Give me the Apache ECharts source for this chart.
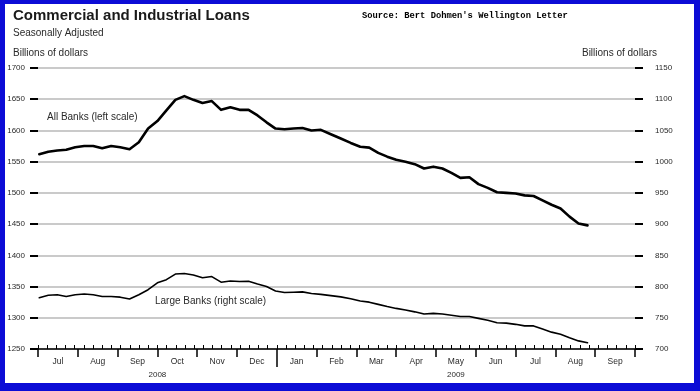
<!DOCTYPE html>
<html>
<head>
<meta charset="utf-8">
<script src="https://cdn.jsdelivr.net/npm/echarts@6/dist/echarts.min.js"></script>
<style>
  html, body { margin: 0; padding: 0; background: #fff; }
  #wrap { position: relative; width: 700px; height: 391px; }
  #chart { position: absolute; left: 0; top: 0; width: 700px; height: 391px; }
  #frame { position: absolute; left: 0; top: 0; width: 700px; height: 391px; box-sizing: border-box;
           border-style: solid; border-color: #0c0cd6; border-width: 4px 6px 8px 5px; pointer-events: none; }
</style>
</head>
<body>
<div id="wrap"><div id="chart"></div><div id="frame"></div></div>
<script>
// ---- data ----
const weeks = [
  '2008-07-02','2008-07-09','2008-07-16','2008-07-23','2008-07-30',
  '2008-08-06','2008-08-13','2008-08-20','2008-08-27',
  '2008-09-03','2008-09-10','2008-09-17','2008-09-24',
  '2008-10-01','2008-10-08','2008-10-15','2008-10-22','2008-10-29',
  '2008-11-05','2008-11-12','2008-11-19','2008-11-26',
  '2008-12-03','2008-12-10','2008-12-17','2008-12-24','2008-12-31',
  '2009-01-07','2009-01-14','2009-01-21','2009-01-28',
  '2009-02-04','2009-02-11','2009-02-18','2009-02-25',
  '2009-03-04','2009-03-11','2009-03-18','2009-03-25',
  '2009-04-01','2009-04-08','2009-04-15','2009-04-22','2009-04-29',
  '2009-05-06','2009-05-13','2009-05-20','2009-05-27',
  '2009-06-03','2009-06-10','2009-06-17','2009-06-24',
  '2009-07-01','2009-07-08','2009-07-15','2009-07-22','2009-07-29',
  '2009-08-05','2009-08-12','2009-08-19','2009-08-26'
];
const allBanks = [
  1562, 1566, 1568, 1569, 1573,
  1575, 1575, 1571.5, 1575,
  1573, 1570, 1581, 1603,
  1615, 1632, 1649, 1655, 1649,
  1644, 1647, 1633, 1637,
  1633, 1633, 1624, 1613, 1603,
  1602, 1603, 1604, 1600,
  1601, 1594, 1587, 1580,
  1574, 1572.5, 1564, 1558,
  1553, 1550, 1546, 1539, 1542,
  1539, 1532, 1524, 1525,
  1514, 1508, 1501, 1500,
  1499, 1496, 1495, 1488, 1481,
  1475, 1462, 1451, 1448
];
const largeBanks = [
  782, 786, 787, 784, 787,
  788, 787, 784, 784,
  783, 780, 787, 795,
  806, 811, 820, 821, 818.5,
  814, 816, 807, 809,
  808, 808.5, 804, 800, 793,
  790.5, 791, 791.5, 789,
  787.5, 785.5, 783.5, 780.5,
  777, 775, 771.5, 768,
  765, 762.5, 759.5, 756, 757,
  756, 754, 752, 752,
  749, 746, 742, 741.5,
  739.5, 737, 737, 732, 727,
  723.5, 718, 713, 710
];
const monthLabels = ['Jul','Aug','Sep','Oct','Nov','Dec','Jan','Feb','Mar','Apr','May','Jun','Jul','Aug','Sep'];
const yearLabels = ['2008', '2009'];
const leftRange = [1250, 1700];
const rightRange = [700, 1150];

// ---- helpers ----
function daysIn(y, m) { return new Date(y, m, 0).getDate(); }
// position in "months since Jul 2008" (months drawn with equal width, as in the reference)
function monthPos(s) {
  const [y, m, d] = s.split('-').map(Number);
  return (y - 2008) * 12 + (m - 1) - 6 + (d - 1) / daysIn(y, m);
}
const allData = weeks.map((w, i) => [monthPos(w), allBanks[i]]);
const largeData = weeks.map((w, i) => [monthPos(w), largeBanks[i]]);
const monthBounds = monthLabels.map((_, i) => i).concat([monthLabels.length]);
const monthCenters = monthLabels.map((_, i) => i + 0.5);
const yearCenters = [3, 10.5];
const nM = monthLabels.length;

const FONT = 'Liberation Sans, Arial, sans-serif';
const txt = '#2a2a2a';
const chart = echarts.init(document.getElementById('chart'), null, { renderer: 'canvas' });

const hiddenAxisBase = {
  type: 'value', min: 0, max: nM, position: 'bottom',
  axisLine: { show: false, onZero: false }, splitLine: { show: false }
};

chart.setOption({
  backgroundColor: '#fff',
  animation: false,
  title: [
    { text: 'Commercial and Industrial Loans', left: 13, top: 8, padding: 0,
      textStyle: { fontFamily: FONT, fontSize: 15, fontWeight: 'bold', color: '#1a1a1a' } },
    { text: 'Seasonally Adjusted', left: 13, top: 28, padding: 0,
      textStyle: { fontFamily: FONT, fontSize: 10, fontWeight: 'normal', color: txt } },
    { text: "Source: Bert Dohmen's Wellington Letter", left: 362, top: 11, padding: 0,
      textStyle: { fontFamily: 'Liberation Mono, DejaVu Sans Mono, monospace', fontSize: 8.8, fontWeight: 'bold', color: '#000' } },
    { text: 'Billions of dollars', left: 13, top: 48, padding: 0,
      textStyle: { fontFamily: FONT, fontSize: 10, fontWeight: 'normal', color: txt } },
    { text: 'Billions of dollars', right: 43, top: 48, padding: 0,
      textStyle: { fontFamily: FONT, fontSize: 10, fontWeight: 'normal', color: txt } },
    { text: 'All Banks (left scale)', left: 47, top: 112, padding: 0,
      textStyle: { fontFamily: FONT, fontSize: 10, fontWeight: 'normal', color: txt } },
    { text: 'Large Banks (right scale)', left: 155, top: 296, padding: 0,
      textStyle: { fontFamily: FONT, fontSize: 10, fontWeight: 'normal', color: txt } }
  ],
  grid: { left: 38, right: 65, top: 68, bottom: 42, containLabel: false },
  xAxis: [
    { // data axis with weekly ticks and the base line
      type: 'value', min: 0, max: nM, interval: 12 / 52, position: 'bottom',
      axisLine: { show: true, onZero: false, lineStyle: { color: '#000', width: 1.5 } },
      axisTick: { show: true, inside: true, length: 4, lineStyle: { color: '#000', width: 1 } },
      axisLabel: { show: false }, splitLine: { show: false }
    },
    Object.assign({}, hiddenAxisBase, { // month boundary ticks and month labels
      axisTick: { show: true, inside: false, length: 8, customValues: monthBounds,
                  lineStyle: { color: '#000', width: 1.5 } },
      axisLabel: { show: true, customValues: monthCenters, margin: 8,
                   formatter: v => monthLabels[Math.floor(v)] || '',
                   fontFamily: FONT, fontSize: 8.5, color: txt }
    }),
    Object.assign({}, hiddenAxisBase, { // year boundary (long) tick
      axisTick: { show: true, inside: false, length: 18, customValues: [6],
                  lineStyle: { color: '#000', width: 1.5 } },
      axisLabel: { show: false }
    }),
    Object.assign({}, hiddenAxisBase, { // year labels
      axisTick: { show: false },
      axisLabel: { show: true, customValues: yearCenters, margin: 22,
                   formatter: v => (v < 6 ? yearLabels[0] : yearLabels[1]),
                   fontFamily: FONT, fontSize: 8, color: txt }
    })
  ],
  yAxis: [
    {
      type: 'value', min: leftRange[0], max: leftRange[1], interval: 50, position: 'left',
      axisLine: { show: false, onZero: false },
      axisTick: { show: true, length: 8, lineStyle: { color: '#000', width: 2 } },
      axisLabel: { margin: 13, fontFamily: FONT, fontSize: 8, color: txt, formatter: v => String(v) },
      splitLine: { show: true, lineStyle: { color: '#b9b9b9', width: 1.5 } }
    },
    {
      type: 'value', min: rightRange[0], max: rightRange[1], interval: 50, position: 'right',
      axisLine: { show: false, onZero: false },
      axisTick: { show: true, length: 8, lineStyle: { color: '#000', width: 2 } },
      axisLabel: { margin: 20, fontFamily: FONT, fontSize: 8, color: txt, formatter: v => String(v) },
      splitLine: { show: false }
    }
  ],
  series: [
    { name: 'All Banks', type: 'line', xAxisIndex: 0, yAxisIndex: 0, data: allData,
      showSymbol: false, symbol: 'none', z: 5,
      lineStyle: { color: '#000', width: 2.6, join: 'round', cap: 'round' } },
    { name: 'Large Banks', type: 'line', xAxisIndex: 0, yAxisIndex: 1, data: largeData,
      showSymbol: false, symbol: 'none', z: 5,
      lineStyle: { color: '#000', width: 1.6, join: 'round', cap: 'round' } }
  ]
});
</script>
</body>
</html>
